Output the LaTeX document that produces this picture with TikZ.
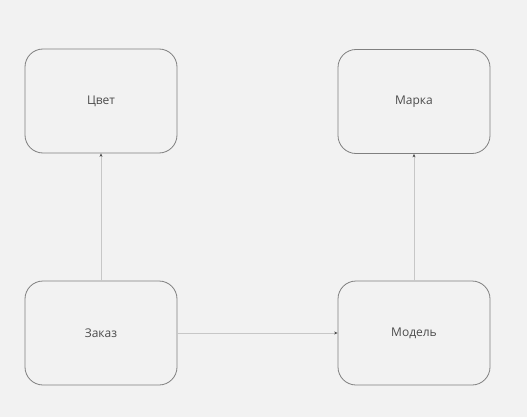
\documentclass[tikz,border=0pt]{standalone}
\usepackage{fontspec}
\setmainfont{Open Sans}
\usetikzlibrary{arrows.meta}
\begin{document}
\begin{tikzpicture}[x=1pt,y=-1pt,
  box/.style={draw=black!50, fill=black!5, rounded corners=18pt, minimum width=152pt, minimum height=104pt, inner sep=0pt, line width=0.8pt, text=black!70, font=\fontsize{12}{14}\selectfont},
  conn/.style={draw=black!22, line width=0.9pt, -{Stealth[length=3.5pt,width=3pt,black!70]}}]
\fill[black!5] (0,0) rectangle (527,417);
\useasboundingbox (0,0) rectangle (527,417);
\node[box] (cvet) at (101,101) {Цвет};
\node[box] (marka) at (414,101.5) {Марка};
\node[box] (zakaz) at (101,333) {Заказ};
\node[box] (model) at (414,333) {Модель};
\draw[conn] (zakaz) -- (cvet);
\draw[conn] (model) -- (marka);
\draw[conn] (zakaz) -- (model);
\end{tikzpicture}
\end{document}
